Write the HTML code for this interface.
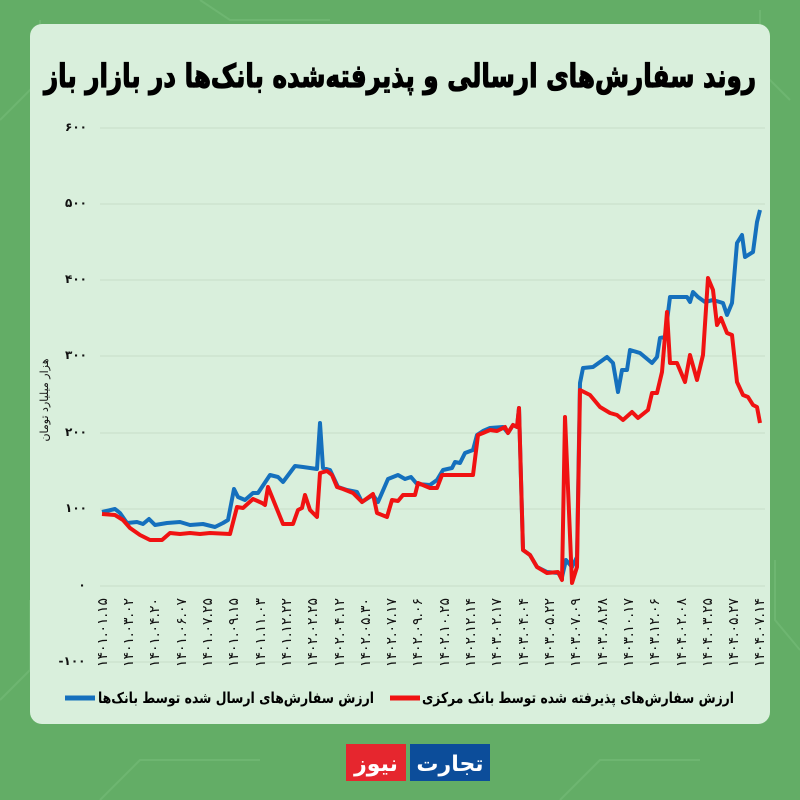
<!DOCTYPE html>
<html><head><meta charset="utf-8"><style>
html,body{margin:0;padding:0;width:800px;height:800px;overflow:hidden;background:#63ad66;}
svg{display:block}
text{font-family:"DejaVu Sans","Liberation Sans",sans-serif;}
</style></head><body>
<svg width="800" height="800" viewBox="0 0 800 800" xmlns="http://www.w3.org/2000/svg">
<rect x="0" y="0" width="800" height="800" fill="#63ad66"/>
<g stroke="#74b976" stroke-width="2" fill="none" opacity="0.7">
<path d="M0 120 L40 80 L40 20"/><path d="M790 100 L760 70 L760 10"/><path d="M0 700 L30 670 L30 600"/><path d="M800 650 L775 620 L775 560"/>
<path d="M100 800 L140 760 L260 760"/><path d="M560 800 L600 760 L700 760"/><path d="M200 0 L230 20 L330 20"/>
</g>
<rect x="30" y="24" width="740" height="700" rx="12" fill="#d9efdc"/>
<text x="400" y="87" font-size="32" font-weight="bold" stroke="#000" stroke-width="1.2" text-anchor="middle" textLength="712" lengthAdjust="spacingAndGlyphs" direction="rtl" fill="#000">روند سفارش‌های ارسالی و پذیرفته‌شده بانک‌ها در بازار باز</text>
<g stroke="#c6dcc8" stroke-width="1">
<line x1="100" y1="128" x2="765" y2="128"/><line x1="100" y1="204" x2="765" y2="204"/><line x1="100" y1="280" x2="765" y2="280"/><line x1="100" y1="356" x2="765" y2="356"/><line x1="100" y1="433" x2="765" y2="433"/><line x1="100" y1="509" x2="765" y2="509"/><line x1="100" y1="586" x2="765" y2="586"/><line x1="100" y1="662" x2="765" y2="662"/>
</g>
<g font-size="12" fill="#111" text-anchor="middle" font-weight="bold">
<text x="76" y="131">۶۰۰</text><text x="76" y="207">۵۰۰</text><text x="76" y="283">۴۰۰</text><text x="76" y="359">۳۰۰</text><text x="76" y="436">۲۰۰</text><text x="76" y="512">۱۰۰</text><text x="82" y="589">۰</text><text x="72" y="665">-۱۰۰</text>
</g>
<text transform="translate(48,400) rotate(-90)" font-size="11" text-anchor="middle" direction="rtl" fill="#111">هزار میلیارد تومان</text>
<g font-size="14" fill="#111" text-anchor="end" direction="ltr">
<text transform="translate(107,598) rotate(-90)">۱۴۰۱.۰۱.۱۵</text>
<text transform="translate(133,598) rotate(-90)">۱۴۰۱.۰۳.۰۲</text>
<text transform="translate(159,598) rotate(-90)">۱۴۰۱.۰۴.۲۰</text>
<text transform="translate(186,598) rotate(-90)">۱۴۰۱.۰۶.۰۷</text>
<text transform="translate(212,598) rotate(-90)">۱۴۰۱.۰۷.۲۵</text>
<text transform="translate(238,598) rotate(-90)">۱۴۰۱.۰۹.۱۵</text>
<text transform="translate(265,598) rotate(-90)">۱۴۰۱.۱۱.۰۳</text>
<text transform="translate(291,598) rotate(-90)">۱۴۰۱.۱۲.۲۲</text>
<text transform="translate(317,598) rotate(-90)">۱۴۰۲.۰۲.۲۵</text>
<text transform="translate(344,598) rotate(-90)">۱۴۰۲.۰۴.۱۲</text>
<text transform="translate(370,598) rotate(-90)">۱۴۰۲.۰۵.۳۰</text>
<text transform="translate(396,598) rotate(-90)">۱۴۰۲.۰۷.۱۷</text>
<text transform="translate(422,598) rotate(-90)">۱۴۰۲.۰۹.۰۶</text>
<text transform="translate(449,598) rotate(-90)">۱۴۰۲.۱۰.۲۵</text>
<text transform="translate(475,598) rotate(-90)">۱۴۰۲.۱۲.۱۴</text>
<text transform="translate(501,598) rotate(-90)">۱۴۰۳.۰۲.۱۷</text>
<text transform="translate(528,598) rotate(-90)">۱۴۰۳.۰۴.۰۴</text>
<text transform="translate(554,598) rotate(-90)">۱۴۰۳.۰۵.۲۲</text>
<text transform="translate(580,598) rotate(-90)">۱۴۰۳.۰۷.۰۹</text>
<text transform="translate(607,598) rotate(-90)">۱۴۰۳.۰۸.۲۸</text>
<text transform="translate(633,598) rotate(-90)">۱۴۰۳.۱۰.۱۷</text>
<text transform="translate(659,598) rotate(-90)">۱۴۰۳.۱۲.۰۶</text>
<text transform="translate(686,598) rotate(-90)">۱۴۰۴.۰۲.۰۸</text>
<text transform="translate(712,598) rotate(-90)">۱۴۰۴.۰۳.۲۵</text>
<text transform="translate(738,598) rotate(-90)">۱۴۰۴.۰۵.۲۷</text>
<text transform="translate(764,598) rotate(-90)">۱۴۰۴.۰۷.۱۴</text>
</g>
<polyline fill="none" stroke="#1570bd" stroke-width="4" stroke-linejoin="round" points="102,512 115,509 120,513 127,523 137,522 143,524 149,519 155,525 167,523 180,522 190,525 203,524 215,527 223,523 228,520 234,489 238,497 245,500 253,493 258,493 270,475 278,477 283,482 295,466 303,467 317,469 320,423 323,468 330,470 338,487 347,490 357,492 362,502 373,495 378,502 388,479 398,475 405,479 411,477 417,484 430,485 437,480 443,470 452,468 455,462 460,463 465,453 473,450 477,435 483,431 490,428 503,427 508,433 513,425 517,427 519,408 523,550 530,555 537,567 547,572 558,573 562,577 566,560 572,567 577,557 580,383 583,368 593,367 600,362 607,357 613,363 618,392 622,370 627,370 630,350 640,353 652,363 657,357 660,338 665,337 670,297 678,297 687,297 690,302 693,292 698,297 705,302 713,300 723,303 727,315 732,303 737,243 742,235 745,257 753,252 757,222 760,210"/>
<polyline fill="none" stroke="#f01212" stroke-width="4" stroke-linejoin="round" points="102,514 115,515 123,520 130,528 140,535 150,540 162,540 170,533 180,534 190,533 200,534 210,533 230,534 237,507 243,508 253,499 262,503 265,505 268,487 283,524 293,524 298,510 302,508 305,495 310,510 317,517 320,473 327,471 332,475 337,487 343,489 353,493 362,502 373,494 377,513 387,517 392,500 398,501 403,495 415,495 418,483 430,488 437,488 442,475 473,475 478,435 483,433 490,430 497,431 505,427 508,433 513,425 517,427 519,408 523,550 530,555 537,567 547,573 558,572 562,580 565,417 572,583 577,567 580,390 590,395 600,407 610,413 617,415 623,420 632,412 638,418 648,410 652,393 657,393 662,372 667,312 670,363 677,363 685,382 690,355 697,380 703,355 708,278 713,290 717,325 721,318 727,333 732,335 737,382 743,395 748,397 753,405 757,407 760,423"/>
<line x1="65" y1="698" x2="95" y2="698" stroke="#1570bd" stroke-width="5"/>
<text x="236" y="703" font-size="15" font-weight="bold" text-anchor="middle" textLength="276" lengthAdjust="spacingAndGlyphs" direction="rtl" fill="#000">ارزش سفارش‌های ارسال شده توسط بانک‌ها</text>
<line x1="390" y1="698" x2="420" y2="698" stroke="#f01212" stroke-width="5"/>
<text x="578" y="703" font-size="15" font-weight="bold" text-anchor="middle" textLength="312" lengthAdjust="spacingAndGlyphs" direction="rtl" fill="#000">ارزش سفارش‌های پذیرفته شده توسط بانک مرکزی</text>
<rect x="346" y="744" width="60" height="37" fill="#e6262e"/>
<rect x="410" y="744" width="80" height="37" fill="#0c4d9a"/>
<text x="376" y="771" font-size="22" font-weight="bold" fill="#fff" text-anchor="middle" direction="rtl">نیوز</text>
<text x="450" y="771" font-size="22" font-weight="bold" fill="#fff" text-anchor="middle" direction="rtl">تجارت</text>
</svg>
</body></html>
